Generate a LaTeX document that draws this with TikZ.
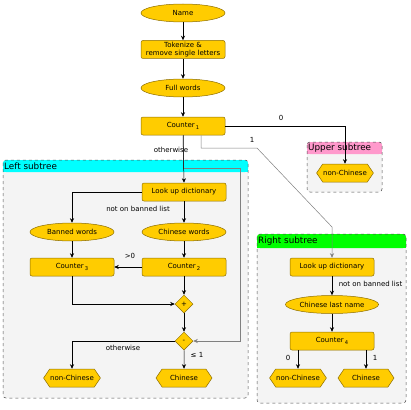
\documentclass[tikz,border=0pt]{standalone}
\usepackage{fontspec}
\setmainfont{DejaVu Sans}
\usetikzlibrary{shapes.geometric,shapes.symbols,arrows.meta}
\definecolor{gold}{HTML}{FFCC00}
\definecolor{golddark}{HTML}{8C6D00}
\definecolor{panel}{HTML}{F4F4F4}
\definecolor{pinkhead}{HTML}{FF99CC}
\definecolor{cyanhead}{HTML}{00FFFF}
\definecolor{greenhead}{HTML}{00FF00}
\tikzset{
  base/.style={fill=gold,draw=golddark,line width=0.5pt,inner sep=0.5pt,font=\fontsize{7}{7.8}\selectfont,text=black},
  boxnode/.style={base,rectangle,rounded corners=2pt,minimum width=84pt,minimum height=18pt,align=center},
  ovalnode/.style={base,ellipse,minimum width=84pt,minimum height=18pt},
  hexnode/.style={base,signal,signal to=west and east,signal pointer angle=112,minimum width=56pt,minimum height=18pt},
  dianode/.style={base,diamond,minimum width=18pt,minimum height=18pt,inner sep=0pt},
  conn/.style={line width=0.5pt,-{Stealth[length=4.5pt,width=4pt]}},
  grayconn/.style={conn,draw=gray},
  lbl/.style={font=\fontsize{7}{7.8}\selectfont,inner sep=0pt},
  frame/.style={draw=black!70,dashed,line width=0.5pt,rounded corners=3pt},
  title/.style={font=\fontsize{8.8}{9.5}\selectfont,anchor=west,inner sep=0pt}
}
\newcommand{\sub}[1]{\,\raisebox{-2.5pt}{\fontsize{5.2}{5.5}\selectfont #1}}
\begin{document}
\begin{tikzpicture}[x=1pt,y=-1pt]
\useasboundingbox (0,0) rectangle (411,409);
% frames
\fill[panel,rounded corners=3pt] (3,160) rectangle (248,398);
\fill[cyanhead,rounded corners=3pt] (3,160) rectangle (248,172);
\fill[cyanhead] (3,166) rectangle (248,172);
\draw[frame] (3,160) rectangle (248,398);
\node[title] (lt) at (4,166.5) {Left subtree};

\fill[panel,rounded corners=3pt] (307,142) rectangle (382,192);
\fill[pinkhead,rounded corners=3pt] (307,142) rectangle (382,154);
\fill[pinkhead] (307,148) rectangle (382,154);
\draw[frame] (307,142) rectangle (382,192);
\node[title] (ut) at (308,148.5) {Upper subtree};

\fill[panel,rounded corners=3pt] (257,234) rectangle (406,403);
\fill[greenhead,rounded corners=3pt] (257,234) rectangle (406,248);
\fill[greenhead] (257,240) rectangle (406,248);
\draw[frame] (257,234) rectangle (406,403);
\node[title] (rt) at (258,241.5) {Right subtree};

% nodes
\node[ovalnode] (name) at (183,13) {Name};
\node[boxnode] (tok) at (183,49.5) {Tokenize \&\\remove single letters};
\node[ovalnode] (full) at (183,88) {Full words};
\node[boxnode] (c1) at (183,126) {Counter\sub{1}};

\node[hexnode] (unc) at (345,173) {non-Chinese};

\node[boxnode] (llook) at (184,192) {Look up dictionary};
\node[ovalnode] (banned) at (72,232) {Banned words};
\node[ovalnode] (cwords) at (184,232) {Chinese words};
\node[boxnode] (c3) at (72,267) {Counter\sub{3}};
\node[boxnode] (c2) at (184,267) {Counter\sub{2}};
\node[dianode] (plus) at (184,304) {+};
\node[dianode] (minus) at (184,341) {-};
\node[hexnode] (lnc) at (72,378) {non-Chinese};
\node[hexnode] (lch) at (184,378) {Chinese};

\node[boxnode] (rlook) at (332,267) {Look up dictionary};
\node[ovalnode] (rlast) at (332,304.5) {Chinese last name};
\node[boxnode] (c4) at (332,341) {Counter\sub{4}};
\node[hexnode] (rnc) at (298,378) {non-Chinese};
\node[hexnode] (rch) at (366,378) {Chinese};

% connectors
\coordinate (g1) at (183,168);
\draw[grayconn] (c1.south) -- (g1) -- (240,168) -- (240,341) -- (minus.east);
\coordinate (o1) at (201,148);
\draw[grayconn] (c1.south -| o1) -- (o1) -- (257,148) -- (332,227) -- (rlook.north);
\draw[conn] (name) -- (tok);
\draw[conn] (tok) -- (full);
\draw[conn] (full) -- (c1);
\draw[conn] (c1.east) -| (unc.north);
\draw[conn] (c1.south) -- (llook.north);
\draw[conn] (llook.west) -| (banned.north);
\draw[conn] (llook) -- (cwords);
\draw[conn] (banned) -- (c3);
\draw[conn] (cwords) -- (c2);
\draw[conn] (c2) -- (c3);
\draw[conn] (c3.south) |- (plus.west);
\draw[conn] (c2) -- (plus);
\draw[conn] (plus) -- (minus);
\draw[conn] (minus.west) -| (lnc.north);
\draw[conn] (minus) -- (lch);
\draw[conn] (rlook) -- (rlast);
\draw[conn] (rlast) -- (c4);
\draw[conn] (c4.south -| rnc) -- (rnc.north);
\draw[conn] (c4.south -| rch) -- (rch.north);

% labels
\node[lbl] (l0) at (281,118) {0};
\node[lbl] (l1) at (252,140) {1};
\node[lbl] (lo1) at (171,150) {otherwise};
\node[lbl] (lnb) at (138,209) {not on banned list};
\node[lbl] (lgt) at (130,256) {>0};
\node[lbl] (lo2) at (123,348) {otherwise};
\node[lbl] (lle) at (197,355) {≤ 1};
\node[lbl] (lnb2) at (370.5,284) {not on banned list};
\node[lbl] (lr0) at (288,357.5) {0};
\node[lbl] (lr1) at (375,357.5) {1};
\end{tikzpicture}
\end{document}
